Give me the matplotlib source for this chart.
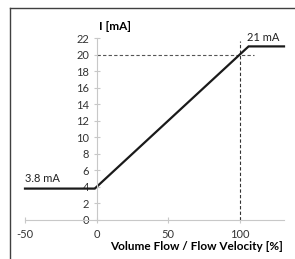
import matplotlib
matplotlib.use("Agg")
import matplotlib.pyplot as plt
from matplotlib.lines import Line2D

plt.rcParams['font.family'] = ['Lato', 'DejaVu Sans']

# Data
flow_pct = [-50, -1.25, 106.25, 131]
current_mA = [3.8, 3.8, 21, 21]
x_ticks = [-50, 0, 50, 100]
y_ticks = [0, 2, 4, 6, 8, 10, 12, 14, 16, 18, 20, 22]
ref_current = 20
ref_flow = 100

W, H = 295, 259
fig = plt.figure(figsize=(W / 100, H / 100), dpi=100)

# border frame (left and top)
fig.add_artist(Line2D([10 / W, 10 / W], [0, 1 - 8 / H], color='#404040', lw=1.0, transform=fig.transFigure))
fig.add_artist(Line2D([10 / W, 1], [1 - 8 / H, 1 - 8 / H], color='#404040', lw=1.0, transform=fig.transFigure))
# cut-off title above the frame (only descenders visible)
fig.text(8 / W, 1 + 3 / H, "Output (Frequency)", fontsize=12, fontweight='bold', ha='left', va='baseline')

ax = fig.add_axes([25 / W, 39 / H, 259 / W, 186 / H])
ax.set_xlim(-50, 131)
ax.set_ylim(0, 22.5)
for s in ['top', 'right']:
    ax.spines[s].set_visible(False)
ax.spines['left'].set_position(('data', 0))
ax.spines['bottom'].set_position(('data', 0))
for s in ['left', 'bottom']:
    ax.spines[s].set_color('#c8c8c8')
    ax.spines[s].set_linewidth(0.8)
ax.spines['left'].set_bounds(0, 22)

ax.set_xticks(x_ticks)
ax.set_yticks(y_ticks)
ax.set_xticklabels([str(v) for v in x_ticks])
ax.set_yticklabels([str(v) for v in y_ticks])
ax.tick_params(axis='both', colors='#c8c8c8', labelcolor='#333333', labelsize=8, width=0.8)
ax.tick_params(axis='y', direction='inout', length=5, pad=3)
ax.tick_params(axis='x', direction='inout', length=5, pad=4)

# dashed reference lines
ax.plot([0, 110], [ref_current, ref_current], color='#555555', lw=0.8, ls=(0, (3, 2)))
ax.plot([ref_flow, ref_flow], [0, 21.6], color='#333333', lw=0.8, ls=(0, (3, 2)))

# characteristic curve
ax.plot(flow_pct, current_mA, color='#1a1a1a', lw=1.6, solid_joinstyle='miter', clip_on=False)

ax.text(-50, 4.3, "3.8 mA", fontsize=8, ha='left', va='bottom', color='#222222')
ax.text(128, 21.4, "21 mA", fontsize=8, ha='right', va='bottom', color='#222222')

ax.text(2, 22.7, "I [mA]", fontsize=8.5, fontweight='bold', ha='left', va='bottom', clip_on=False)
ax.text(130, -2.6, "Volume Flow / Flow Velocity [%]", fontsize=8.5, fontweight='bold',
        ha='right', va='top', clip_on=False)

fig.savefig("out.png", dpi=100)
